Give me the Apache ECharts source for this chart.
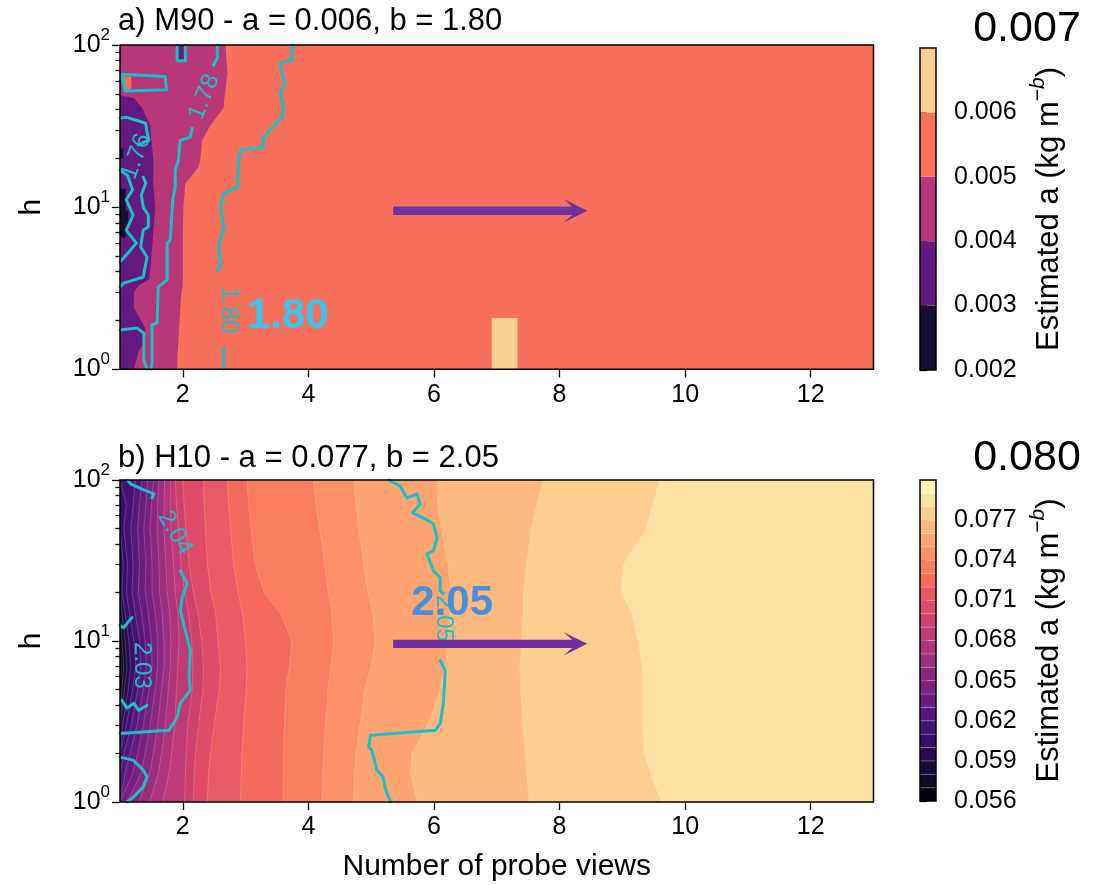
<!DOCTYPE html>
<html>
<head>
<meta charset="utf-8">
<script src="https://cdn.jsdelivr.net/npm/echarts@6/dist/echarts.min.js"></script>
<style>
  html, body { margin: 0; padding: 0; background: #fff; }
  #chart { width: 1107px; height: 885px; }
</style>
</head>
<body>
<div id="chart"></div>
<script>
// ---------------- data ----------------
const X_MIN = 1, X_MAX = 13, H_MIN = 1, H_MAX = 100;
const xTicks = [2, 4, 6, 8, 10, 12];
const minorH = [2, 3, 4, 5, 6, 7, 8, 9, 20, 30, 40, 50, 60, 70, 80, 90];

// Panel a (M90): estimated a, filled by level. Each edge list gives the
// number of probe views where a crosses that level, one entry per h row.
const titleA = 'a) M90 - a = 0.006, b = 1.80';
const rowsA = [1, 1.3, 1.5, 1.8, 2.4, 3.0, 3.3, 3.6, 5, 7, 10, 14, 17.6, 20, 26, 32, 41, 47, 49, 67, 100];
const baseA = 0.0035;
const levelsA = [0.004, 0.005];
const edgeA004 = [1.22, 1.30, 1.40, 1.40, 1.22, 1.22, 1.30, 1.47, 1.50, 1.53, 1.56, 1.53, 1.53, 1.53, 1.50, 1.48, 1.35, 1.22, 1.0, 1.0, 1.0];
const edgeA005 = [1.91, 1.92, 1.93, 1.94, 1.96, 1.98, 2.00, 2.00, 2.00, 2.00, 2.01, 2.04, 2.25, 2.28, 2.31, 2.44, 2.65, 2.66, 2.67, 2.71, 2.68];
// isolated cells: [x0, x1, h0, h1, a]
const patchesA = [
  [1.00, 1.09, 6.5, 13, 0.0025],
  [1.00, 1.13, 7.5, 9.5, 0.0025],
  [1.00, 1.05, 20, 23, 0.0025],
  [1.05, 1.18, 53, 64, 0.0055],
  [1.91, 2.04, 80, 100, 0.0035],
  [6.92, 7.33, 1, 2.07, 0.0065]
];
const colorbarA = [0.002, 0.003, 0.004, 0.005, 0.006, 0.007];
const cbTicksA = [0.002, 0.003, 0.004, 0.005, 0.006];

// b contours of panel a: [views, h]
const c180Upper = [[3.74,100],[3.74,80.7],[3.55,77.3],[3.58,67.1],[3.63,58.2],[3.55,50.6],[3.60,42],[3.58,35.9],[3.28,27.0],[3.28,23.4],[2.92,22.5],[2.89,19.5],[2.87,13.3],[2.65,12.2],[2.60,10.0],[2.65,7.53],[2.57,5.68],[2.60,4.27],[2.55,4.1]];
const c180Lower = [[2.65,1.35],[2.65,1]];
const c178Upper = [[2.55,100],[2.55,83],[2.49,75.2]];
const c178Lower = [[2.15,30.7],[2.12,27.0],[1.96,25.9],[1.93,19.5],[1.88,16.9],[1.88,13.3],[1.84,11.1],[1.80,6.27],[1.75,6.01],[1.75,3.56],[1.61,3.22],[1.59,1.93],[1.51,1.88],[1.51,1.09],[1.49,1]];
const c176Upper = [[1.0,35.4],[1.11,35.8],[1.41,32.9],[1.43,29.0],[1.46,25.9],[1.29,24.2]];
const c176Lower = [[1.37,15.3],[1.41,14.1],[1.34,11.9],[1.37,10.0],[1.45,8.94],[1.45,7.54],[1.37,7.22],[1.33,5.68],[1.43,4.93],[1.37,3.71],[1.06,3.40],[1.0,3.22]];
const c176Inner = [[1.0,16.9],[1.12,15.7],[1.2,12.8],[1.10,11.1],[1.21,8.94],[1.10,7.22],[1.26,6.0],[1.10,5.07],[1.0,4.59]];
const cBoxA = [[1.04,66],[1.72,64],[1.74,53],[1.08,52],[1.04,62],[1.04,66]];
const cSquareA = [[1.91,100],[1.91,80],[2.04,80],[2.04,100]];
const cBottomA = [[1.0,1.75],[1.27,1.80],[1.38,1.67],[1.38,1.14],[1.43,1.0]];
// contour labels: [views, h, text, rotation in degrees]
const labelsA = [[2.73, 2.32, '1.80', -90], [2.34, 47.7, '1.78', 68], [1.26, 20.5, '1.76', 70]];
const bigLabelA = [[3.67, 2.13, '1.80']];
const arrowA = [[5.35, 8.44, 9.5]];

// Panel b (H10)
const titleB = 'b) H10 - a = 0.077, b = 2.05';
const rowsB = [1, 1.5, 2, 3, 5, 7, 10, 15, 20, 30, 50, 70, 100];
const baseB = 0.0565;
const levelsB = [0.057, 0.058, 0.059, 0.060, 0.061, 0.062, 0.063, 0.064, 0.065, 0.066, 0.067,
                 0.068, 0.069, 0.070, 0.071, 0.072, 0.073, 0.074, 0.075, 0.076, 0.077, 0.078];
const edgesB = [
  [1,1,1,1,1,1.02,1,1,1,1,1,1,1],
  [1,1,1,1,1.03,1.06,1.03,1,1,1,1,1,1],
  [1,1,1,1,1.07,1.11,1.08,1.03,1,1,1,1,1],
  [1,1,1,1.04,1.13,1.17,1.14,1.08,1.03,1.05,1,1,1],
  [1,1,1,1.10,1.20,1.25,1.22,1.15,1.10,1.12,1.06,1.10,1],
  [1,1,1.06,1.18,1.28,1.33,1.31,1.24,1.19,1.21,1.17,1.21,1.24],
  [1,1.08,1.16,1.27,1.37,1.42,1.40,1.34,1.29,1.31,1.28,1.31,1.35],
  [1,1.20,1.28,1.37,1.46,1.51,1.50,1.45,1.40,1.41,1.38,1.41,1.44],
  [1.12,1.33,1.40,1.48,1.56,1.60,1.60,1.56,1.51,1.51,1.48,1.50,1.53],
  [1.30,1.47,1.53,1.60,1.66,1.70,1.70,1.67,1.63,1.62,1.59,1.60,1.62],
  [1.47,1.61,1.66,1.72,1.77,1.80,1.81,1.79,1.75,1.73,1.70,1.70,1.71],
  [1.68,1.78,1.82,1.87,1.90,1.92,1.94,1.92,1.88,1.85,1.81,1.80,1.80],
  [2.03,2.04,2.05,2.08,2.15,2.16,2.14,2.09,2.03,1.97,1.93,1.90,1.88],
  [2.17,2.18,2.20,2.25,2.32,2.33,2.30,2.24,2.17,2.10,2.05,2.02,2.00],
  [2.39,2.41,2.44,2.50,2.58,2.60,2.56,2.52,2.45,2.39,2.36,2.34,2.33],
  [2.92,2.93,2.94,2.97,3.01,3.02,3.00,2.95,2.88,2.81,2.76,2.73,2.71],
  [3.60,3.60,3.61,3.62,3.64,3.70,3.74,3.55,3.30,3.15,3.09,3.05,3.02],
  [4.22,4.23,4.24,4.27,4.31,4.36,4.40,4.37,4.32,4.26,4.18,4.12,4.08],
  [4.72,4.73,4.76,4.82,4.90,5.00,5.07,5.02,4.95,4.88,4.80,4.76,4.72],
  [5.73,5.63,5.65,5.90,6.10,6.18,6.21,6.25,6.28,6.22,6.12,6.06,6.07],
  [7.52,7.48,7.46,7.42,7.38,7.37,7.40,7.42,7.43,7.48,7.55,7.64,7.74],
  [9.63,9.45,9.35,9.33,9.33,9.32,9.25,9.15,8.98,9.02,9.38,9.48,9.60]
];
const colorbarB = [0.056, 0.057, 0.058, 0.059, 0.060, 0.061, 0.062, 0.063, 0.064, 0.065, 0.066, 0.067,
                   0.068, 0.069, 0.070, 0.071, 0.072, 0.073, 0.074, 0.075, 0.076, 0.077, 0.078, 0.079, 0.080];
const cbTicksB = [0.056, 0.059, 0.062, 0.065, 0.068, 0.071, 0.074, 0.077];

const c205Upper = [[5.28,100],[5.46,91.8],[5.57,77.4],[5.73,81.9],[5.78,71.0],[5.66,62.5],[5.86,57.4],[5.99,53.4],[6.05,43.8],[5.99,36.3],[5.89,34.8],[5.99,27.3],[6.10,24.7],[6.10,20.5],[6.15,19.7]];
const c205Lower = [[6.10,7.57],[6.18,6.57],[6.15,4.10],[6.10,3.08],[6.02,2.79],[4.99,2.60],[4.96,2.19],[5.01,2.10],[5.09,1.58],[5.19,1.43],[5.23,1.19],[5.31,1]];
const c204Upper = [[1.12,100],[1.17,94.5],[1.34,88],[1.54,81.9],[1.51,77.4]];
const c204Lower = [[1.96,27.3],[2.07,22.7],[1.99,18.6],[1.96,15.4],[2.04,11.6],[2.12,8.73],[2.10,5.94],[2.12,4.93],[1.96,4.10],[1.91,3.36],[1.78,2.79],[1.06,2.67],[1.0,2.67]];
const c204Loop = [[1.0,1.90],[1.21,1.82],[1.37,1.58],[1.43,1.43],[1.37,1.24],[1.21,1.07],[1.11,1.0]];
const c203Upper = [[1.0,12.5],[1.06,12.1],[1.19,14.0]];
const c203Lower = [[1.03,4.28],[1.11,3.82],[1.22,4.1],[1.30,3.71],[1.43,3.99]];
const labelsB = [[1.88, 47, '2.04', -60], [1.34, 7.05, '2.03', -90], [6.15, 13.8, '2.05', -90]];
const bigLabelB = [[6.29, 17.1, '2.05']];
const arrowB = [[5.35, 8.44, 9.6]];

// ---------------- styling ----------------
const FONT = '"Liberation Sans", Arial, Helvetica, sans-serif';
const CYAN = '#1cbfc5';
const ARROW = '#7030a0';
const MAGMA = ['#000004', '#140e36', '#3b0f70', '#641a80', '#8c2981', '#b73779',
               '#de4968', '#f7705c', '#fe9f6d', '#fecf92', '#fcfdbf'];
const MAGMA_RGB = MAGMA.map(h => [1, 3, 5].map(i => parseInt(h.substr(i, 2), 16)));

function magma(t) {
  t = Math.max(0, Math.min(1, t));
  const s = t * (MAGMA_RGB.length - 1);
  const i = Math.min(MAGMA_RGB.length - 2, Math.floor(s));
  const f = s - i;
  const a = MAGMA_RGB[i], b = MAGMA_RGB[i + 1];
  const c = a.map((v, k) => Math.round(v + (b[k] - v) * f));
  return 'rgb(' + c.join(',') + ')';
}
// colour of the filled band that contains value v
function bandColor(v, bounds) {
  const n = bounds.length - 1;
  let i = 0;
  while (i < n - 1 && v >= bounds[i + 1] - 1e-9) i++;
  return magma((i + 0.5) / n);
}

// ---------------- series builders ----------------
function bandSeries(xi, yi, rows, levels, edges, bounds, stroke) {
  return {
    type: 'custom', xAxisIndex: xi, yAxisIndex: yi, silent: true, z: 1,
    data: levels.map((v, k) => [k]),
    renderItem(params, api) {
      const k = params.dataIndex;
      const pts = rows.map((h, i) => api.coord([edges[k][i], h]));
      pts.push(api.coord([X_MAX, H_MAX]), api.coord([X_MAX, H_MIN]));
      return {
        type: 'polygon', shape: { points: pts },
        style: { fill: bandColor(levels[k], bounds), stroke: stroke || null, lineWidth: stroke ? 0.7 : 0 }
      };
    }
  };
}
function patchSeries(xi, yi, patches, bounds) {
  return {
    type: 'custom', xAxisIndex: xi, yAxisIndex: yi, silent: true, z: 2,
    data: patches.map(p => [p[0], p[2]]),
    renderItem(params, api) {
      const p = patches[params.dataIndex];
      const a = api.coord([p[0], p[3]]), b = api.coord([p[1], p[2]]);
      return { type: 'rect', shape: { x: a[0], y: a[1], width: b[0] - a[0], height: b[1] - a[1] },
               style: { fill: bandColor(p[4], bounds) } };
    }
  };
}
function contour(data, xi, yi) {
  return { type: 'line', xAxisIndex: xi, yAxisIndex: yi, data, symbol: 'none', showSymbol: false,
           silent: true, z: 4, lineStyle: { color: CYAN, width: 3, cap: 'round', join: 'round' } };
}
function textSeries(items, xi, yi, style, z) {
  return {
    type: 'custom', xAxisIndex: xi, yAxisIndex: yi, silent: true, z,
    data: items.map(t => [t[0], t[1]]),
    renderItem(params, api) {
      const t = items[params.dataIndex];
      const p = api.coord([t[0], t[1]]);
      return { type: 'text', x: p[0], y: p[1], rotation: (t[3] || 0) * Math.PI / 180,
               style: Object.assign({ text: t[2], align: 'center', verticalAlign: 'middle', fontFamily: FONT }, style) };
    }
  };
}
function arrowSeries(items, xi, yi) {
  return {
    type: 'custom', xAxisIndex: xi, yAxisIndex: yi, silent: true, z: 6,
    data: items.map(a => [a[0], a[2]]),
    renderItem(params, api) {
      const a = items[params.dataIndex];
      const p0 = api.coord([a[0], a[2]]), p1 = api.coord([a[1], a[2]]);
      const y = p0[1], x0 = p0[0], x1 = p1[0];
      return { type: 'polygon', shape: { points: [
        [x0, y - 4.2], [x1 - 15, y - 4.2], [x1 - 23.5, y - 11.7], [x1, y],
        [x1 - 23.5, y + 11.7], [x1 - 15, y + 4.2], [x0, y + 4.2]] },
        style: { fill: ARROW } };
    }
  };
}
function frameSeries(xi, yi) {
  return {
    type: 'custom', xAxisIndex: xi, yAxisIndex: yi, silent: true, z: 8, data: [[0, 0]],
    renderItem(params) {
      const c = params.coordSys;
      return { type: 'rect', shape: { x: c.x, y: c.y, width: c.width, height: c.height },
               style: { fill: null, stroke: '#000', lineWidth: 1.5 } };
    }
  };
}
function colorbarSeries(xi, yi, bounds, stroke) {
  const n = bounds.length - 1;
  return {
    type: 'custom', xAxisIndex: xi, yAxisIndex: yi, silent: true, z: 1,
    data: bounds.slice(0, n).map(v => [0, v]),
    renderItem(params, api) {
      const i = params.dataIndex;
      const a = api.coord([0, bounds[i + 1]]), b = api.coord([1, bounds[i]]);
      return { type: 'rect', shape: { x: a[0], y: a[1], width: b[0] - a[0], height: b[1] - a[1] },
               style: { fill: magma((i + 0.5) / n), stroke: stroke || null, lineWidth: stroke ? 0.7 : 0 } };
    }
  };
}

// ---------------- axes ----------------
const tickLine = { color: '#000', width: 1.3 };
const tickFont = { fontSize: 25, color: '#000', fontFamily: FONT };
const nameFont = { fontSize: 30, color: '#000', fontFamily: FONT };

function xAxisMain(gridIndex, name) {
  return {
    type: 'value', gridIndex, min: X_MIN, max: X_MAX,
    axisLine: { show: false }, splitLine: { show: false },
    axisTick: { show: true, length: 8, lineStyle: tickLine, customValues: xTicks },
    axisLabel: Object.assign({ margin: 13, customValues: xTicks }, tickFont),
    name: name || '', nameLocation: 'middle', nameGap: 50, nameTextStyle: nameFont
  };
}
function yAxisLog(gridIndex) {
  return {
    type: 'log', logBase: 10, gridIndex, position: 'left', min: H_MIN, max: H_MAX,
    axisLine: { show: false }, splitLine: { show: false },
    axisTick: { show: true, length: 8, lineStyle: tickLine },
    axisLabel: {
      margin: 10, color: '#000',
      formatter: v => '{b|10}{s|' + Math.round(Math.log10(v)) + '}',
      rich: {
        b: { fontSize: 25, lineHeight: 36, fontFamily: FONT, color: '#000' },
        s: { fontSize: 17, lineHeight: 17, verticalAlign: 'top', fontFamily: FONT, color: '#000' }
      }
    },
    name: 'h', nameLocation: 'middle', nameGap: 73, nameRotate: 90, nameTextStyle: nameFont
  };
}
function yAxisMinor(gridIndex) {
  return {
    type: 'log', logBase: 10, gridIndex, position: 'left', offset: 0, min: H_MIN, max: H_MAX,
    axisLine: { show: false }, splitLine: { show: false }, axisLabel: { show: false },
    axisTick: { show: true, length: 4.5, lineStyle: tickLine, customValues: minorH }
  };
}
const cbName = 'Estimated a (kg m{s|\u2212}{i|b})';
const cbNameStyle = Object.assign({}, nameFont, {
  lineHeight: 42,
  rich: {
    s: { fontSize: 21, lineHeight: 21, verticalAlign: 'top', fontFamily: FONT, color: '#000' },
    i: { fontSize: 21, lineHeight: 21, verticalAlign: 'top', fontStyle: 'italic', fontFamily: FONT, color: '#000' }
  }
});
function yAxisColorbar(gridIndex, bounds, ticks) {
  return {
    type: 'value', gridIndex, position: 'right', min: bounds[0], max: bounds[bounds.length - 1],
    axisLine: { show: false }, splitLine: { show: false },
    axisTick: { show: true, length: 7, lineStyle: tickLine, customValues: ticks },
    axisLabel: Object.assign({ margin: 18, customValues: ticks, formatter: v => v.toFixed(3) }, tickFont),
    name: cbName, nameLocation: 'middle', nameRotate: 90, nameGap: 92,
    nameTextStyle: Object.assign({}, cbNameStyle, { fontSize: 31 })
  };
}

const titleStyle = { fontSize: 31, fontWeight: 'normal', color: '#000', fontFamily: FONT, lineHeight: 31 };
const option = {
  animation: false,
  backgroundColor: '#fff',
  title: [
    { text: titleA, left: 118, top: 6, padding: 0, textStyle: titleStyle },
    { text: titleB, left: 118, top: 443, padding: 0, textStyle: titleStyle }
  ],
  grid: [
    { left: 120, top: 45, width: 753.5, height: 324.3, show: true, borderWidth: 0, backgroundColor: bandColor(baseA, colorbarA) },
    { left: 120, top: 480, width: 753.5, height: 322, show: true, borderWidth: 0, backgroundColor: bandColor(baseB, colorbarB) },
    { left: 920, top: 48, width: 16, height: 322 },
    { left: 920, top: 480, width: 16, height: 321 }
  ],
  xAxis: [
    xAxisMain(0),
    xAxisMain(1, 'Number of probe views'),
    { type: 'value', gridIndex: 2, min: 0, max: 1, show: false },
    { type: 'value', gridIndex: 3, min: 0, max: 1, show: false }
  ],
  yAxis: [
    yAxisLog(0), yAxisMinor(0),
    yAxisLog(1), yAxisMinor(1),
    yAxisColorbar(2, colorbarA, cbTicksA),
    yAxisColorbar(3, colorbarB, cbTicksB)
  ],
  graphic: [
    { type: 'text', x: 1027, y: 29, style: { text: '0.007', fontSize: 43, fontFamily: FONT, fill: '#000', align: 'center', verticalAlign: 'middle' } },
    { type: 'text', x: 1027, y: 458, style: { text: '0.080', fontSize: 43, fontFamily: FONT, fill: '#000', align: 'center', verticalAlign: 'middle' } }
  ],
  series: [
    // panel a
    bandSeries(0, 0, rowsA, levelsA, [edgeA004, edgeA005], colorbarA),
    patchSeries(0, 0, patchesA, colorbarA),
    contour(c180Upper, 0, 0), contour(c180Lower, 0, 0),
    contour(c178Upper, 0, 0), contour(c178Lower, 0, 0),
    contour(c176Upper, 0, 0), contour(c176Lower, 0, 0), contour(c176Inner, 0, 0),
    contour(cBoxA, 0, 0), contour(cSquareA, 0, 0), contour(cBottomA, 0, 0),
    textSeries(labelsA, 0, 0, { fontSize: 24, fill: CYAN }, 5),
    arrowSeries(arrowA, 0, 0),
    textSeries(bigLabelA, 0, 0, { fontSize: 42, fontWeight: 'bold', fill: '#39c4f2' }, 7),
    frameSeries(0, 0),
    // panel b
    bandSeries(1, 2, rowsB, levelsB, edgesB, colorbarB, 'rgba(255,255,255,0.28)'),
    contour(c205Upper, 1, 2), contour(c205Lower, 1, 2),
    contour(c204Upper, 1, 2), contour(c204Lower, 1, 2), contour(c204Loop, 1, 2),
    contour(c203Upper, 1, 2), contour(c203Lower, 1, 2),
    textSeries(labelsB, 1, 2, { fontSize: 24, fill: CYAN }, 5),
    arrowSeries(arrowB, 1, 2),
    textSeries(bigLabelB, 1, 2, { fontSize: 42, fontWeight: 'bold', fill: '#4a90d9' }, 7),
    frameSeries(1, 2),
    // colorbars
    colorbarSeries(2, 4, colorbarA),
    frameSeries(2, 4),
    colorbarSeries(3, 5, colorbarB, 'rgba(255,255,255,0.25)'),
    frameSeries(3, 5)
  ]
};

const chart = echarts.init(document.getElementById('chart'), null, { renderer: 'canvas' });
chart.setOption(option);
</script>
</body>
</html>
